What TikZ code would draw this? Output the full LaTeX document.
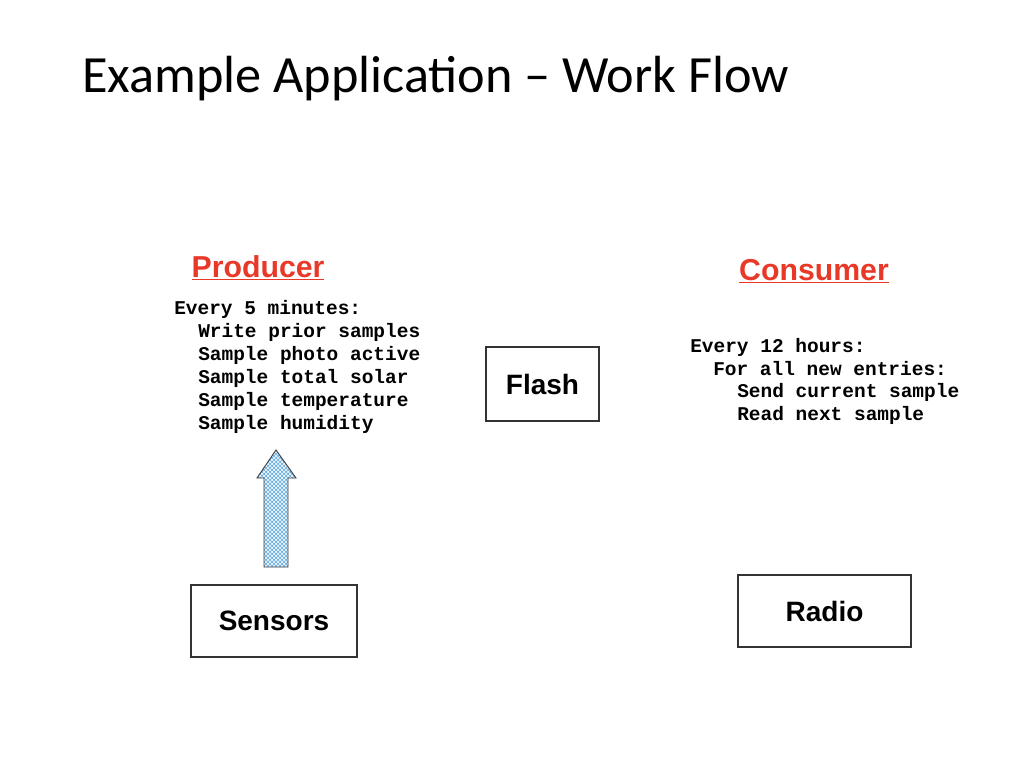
\documentclass[tikz,border=0pt]{standalone}
\usepackage{fontspec}
\setmainfont{Liberation Sans}
\newfontfamily\calfont{Carlito}
\newfontfamily\monofont{Liberation Mono}
\usetikzlibrary{patterns}
\definecolor{prodred}{RGB}{232,56,40}
\definecolor{arrblue}{RGB}{110,175,225}
\begin{document}
\begin{tikzpicture}[x=0.75pt,y=-0.75pt,
  box/.style={draw=black!80,line width=0.8pt,fill=white,font=\bfseries\fontsize{21}{24}\selectfont},
  head/.style={text=prodred,font=\bfseries\fontsize{22.7}{26}\selectfont},
  code/.style={anchor=west,inner sep=0pt,font=\monofont\bfseries\fontsize{14.6}{17}\selectfont}]
\useasboundingbox (0,0) rectangle (1024,768);
\node[anchor=base west,inner sep=0pt,font=\calfont\fontsize{39.2}{42}\selectfont] (title) at (82,92) {Example Application – Work Flow};
\node[head] (prod) at (258,268) {\underline{Producer}};
\node[head] (cons) at (814,271) {\underline{Consumer}};
\node[code] (p1) at (174,309) {Every 5 minutes:};
\node[code] (p2) at (198,332) {Write prior samples};
\node[code] (p3) at (198,355) {Sample photo active};
\node[code] (p4) at (198,378) {Sample total solar};
\node[code] (p5) at (198,401) {Sample temperature};
\node[code] (p6) at (198,424) {Sample humidity};
\node[code] (c1) at (690,347) {Every 12 hours:};
\node[code] (c2) at (713,369) {For all new entries:};
\node[code] (c3) at (737,392) {Send current sample};
\node[code] (c4) at (737,415) {Read next sample};
\node[box,minimum width=113*0.75pt,minimum height=74*0.75pt] (flash) at (542.5,384) {Flash};
\node[box,minimum width=166*0.75pt,minimum height=72*0.75pt] (sens) at (274,621) {Sensors};
\node[box,minimum width=173*0.75pt,minimum height=72*0.75pt] (radio) at (824.5,611) {Radio};
\coordinate (tip) at (276,450);
\path[fill=arrblue] (264,567) -- (264,478) -- (257,478) -- (tip) -- (296,478) -- (288,478) -- (288,567) -- cycle;
\path[pattern=crosshatch,pattern color=white] (264,567) -- (264,478) -- (257,478) -- (tip) -- (296,478) -- (288,478) -- (288,567) -- cycle;
\draw[black!75,line width=0.7pt] (264,567) -- (264,478) -- (257,478) -- (tip) -- (296,478) -- (288,478) -- (288,567) -- cycle;
\end{tikzpicture}
\end{document}
